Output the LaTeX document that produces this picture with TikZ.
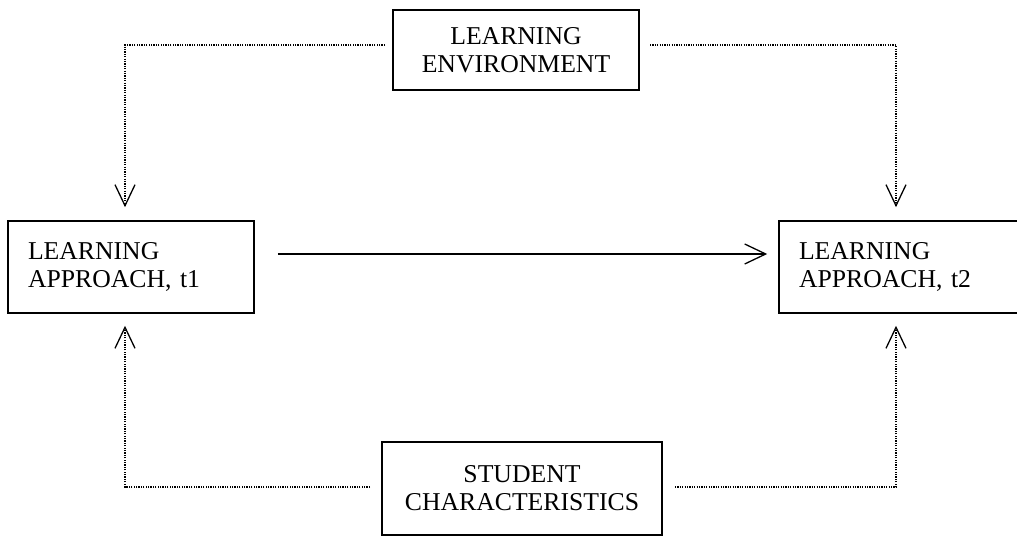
\documentclass[tikz,border=0pt]{standalone}
\usepackage{fontspec}
\setmainfont{Liberation Serif}
\usetikzlibrary{arrows.meta}
\begin{document}
\begin{tikzpicture}[x=1pt,y=-1pt,
  box/.style={draw, line width=1.6pt, inner sep=0pt, font=\fontsize{25.7}{28}\selectfont},
  leftbox/.style={box, minimum width=246pt, minimum height=92pt, text width=206pt, align=left},
  centerbox/.style={box, minimum height=92pt, align=center},
  dotline/.style={line width=1.3pt, dash pattern=on 1.2pt off 1.2pt},
  vtip/.style={-{Straight Barb[length=21pt,width=20pt,line width=1.3pt]}},
]
\useasboundingbox (0,0) rectangle (1017,537);
% nodes
\node[centerbox, minimum width=246pt, minimum height=80pt] (env) at (516,50) {LEARNING\\ENVIRONMENT};
\node[leftbox] (a1) at (131,267) {LEARNING\\APPROACH, t1};
\node[leftbox] (a2) at (902,267) {LEARNING\\APPROACH, t2};
\node[centerbox, minimum width=280pt, minimum height=93pt] (sc) at (522,488.5) {STUDENT\\CHARACTERISTICS};
% corner coordinates
\coordinate (tl) at (125,45);
\coordinate (tr) at (896,45);
\coordinate (bl) at (125,487);
\coordinate (br) at (896,487);
\coordinate (tlstart) at (385,45);
\coordinate (trstart) at (650,45);
\coordinate (blstart) at (370,487);
\coordinate (brstart) at (675,487);
% dotted connectors
\draw[dotline, vtip, shorten >=13pt] (tlstart) -- (tl) -- (tl |- a1.north);
\draw[dotline, vtip, shorten >=13pt] (trstart) -- (tr) -- (tr |- a2.north);
\draw[dotline, vtip, shorten >=12pt] (blstart) -- (bl) -- (bl |- a1.south);
\draw[dotline, vtip, shorten >=12pt] (brstart) -- (br) -- (br |- a2.south);
% solid arrow
\draw[line width=1.3pt, -{Straight Barb[length=21pt,width=20pt,line width=1.3pt]}, shorten <=23pt, shorten >=11pt] (a1.east |- 0,254) -- (a2.west |- 0,254);
\end{tikzpicture}
\end{document}
